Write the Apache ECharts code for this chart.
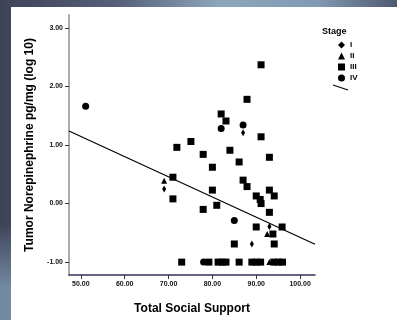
<!DOCTYPE html>
<html>
  <head>
    <meta charset="utf-8" />
    <title></title>
    <style type="text/css">
      html,
      body {
        margin: 0;
        width: 397px;
        height: 320px;
        overflow: hidden;
      }
      body {
        background: linear-gradient(to bottom, rgba(0, 0, 0, 0) 70%, rgba(120, 145, 170, 0.9) 90%),
          linear-gradient(to right, #3e4358 0%, #56607a 30%, #8da6bd 55%, #8199b2 80%, #4f5a72 100%);
      }
      #panel {
        position: absolute;
        left: 11px;
        top: 7px;
        right: 0;
        bottom: 0;
        background-color: #fff;
      }
      #main {
        position: absolute;
        left: 0;
        top: 0;
        width: 397px;
        height: 320px;
      }
    </style>
  </head>
  <body>
    <div id="panel"></div>
    <div id="main"></div>

    <script src="https://cdn.jsdelivr.net/npm/echarts@6/dist/echarts.min.js"></script>
    <script type="text/javascript">
      // 读图得到的数据 [Total Social Support, log10 NE]
      var stageI = [[69, 0.25], [87, 1.21], [93, -0.39], [89, -0.69]];
      var stageII = [[69, 0.39], [92.5, -0.52], [93, -1.0]];
      var stageIII = [
        [71, 0.45], [71, 0.08], [73, -1.0], [71.9, 0.96], [75.1, 1.06],
        [91.1, 2.37], [87.9, 1.78], [82, 1.53], [83.1, 1.41], [91.1, 1.14],
        [77.9, 0.84], [84, 0.91], [93, 0.79], [80, 0.62], [86.1, 0.71],
        [87, 0.4], [87.9, 0.29], [80, 0.23], [93, 0.23], [90, 0.13],
        [90.9, 0.07], [91.1, 0.0], [94.1, 0.13], [77.9, -0.1], [81, -0.03],
        [93, -0.15], [90, -0.4], [95.9, -0.4], [93.8, -0.52], [85, -0.69],
        [94.1, -0.69], [79.2, -1.0], [81.3, -1.0], [82.2, -1.0], [83.1, -1.0],
        [86.1, -1.0], [89, -1.0], [90, -1.0], [91, -1.0], [94, -1.0],
        [95, -1.0], [96, -1.0]
      ];
      var stageIV = [[51.1, 1.66], [82, 1.28], [87, 1.34], [85, -0.29], [78, -1.0]];

      // 拟合线 y = a + b * x
      var fitIntercept = 2.872;
      var fitSlope = -0.0345;

      var xTicks = [50, 60, 70, 80, 90, 100];
      var yTicks = [-1, 0, 1, 2, 3];
      var xRange = [47.3, 103.4];
      var yRange = [-1.22, 3.22];

      var fitLine = xRange.map(function (x) {
        return [x, fitIntercept + fitSlope * x];
      });

      var font = "Liberation Sans, Arial, sans-serif";
      var myChart = echarts.init(document.getElementById("main"));

      function scatter(name, data, symbol, size) {
        return {
          name: name,
          type: "scatter",
          data: data,
          symbol: symbol,
          symbolSize: size,
          itemStyle: { color: "#000", opacity: 1 },
          z: 3,
        };
      }

      var option = {
        backgroundColor: "transparent",
        animation: false,
        textStyle: { fontFamily: font },
        title: {
          text: "Stage",
          left: 317,
          top: 22,
          textStyle: { fontSize: 9, fontWeight: "bold", color: "#000", fontFamily: font },
        },
        legend: {
          orient: "vertical",
          left: 333,
          top: 36,
          itemWidth: 7,
          itemHeight: 7,
          itemGap: 3,
          textStyle: { fontSize: 8, fontWeight: "bold", color: "#000" },
          data: [
            { name: "I", icon: "diamond" },
            { name: "II", icon: "triangle" },
            { name: "III", icon: "rect" },
            { name: "IV", icon: "circle" },
          ],
        },
        // 图例里的拟合线符号
        graphic: [
          {
            type: "line",
            shape: { x1: 333, y1: 85, x2: 348, y2: 90 },
            style: { stroke: "#000", lineWidth: 1.3 },
          },
        ],
        grid: {
          left: 69,
          right: 82,
          top: 15,
          bottom: 41,
        },
        xAxis: {
          type: "value",
          min: xRange[0],
          max: xRange[1],
          name: "Total Social Support",
          nameLocation: "middle",
          nameGap: 28,
          nameTextStyle: { fontSize: 12, fontWeight: "bold", color: "#000" },
          splitLine: { show: false },
          axisLine: { onZero: false, lineStyle: { color: "#33335a", width: 1.5 } },
          axisTick: {
            customValues: xTicks,
            length: 4,
            lineStyle: { color: "#333" },
          },
          axisLabel: {
            customValues: xTicks,
            margin: 6,
            fontSize: 7,
            fontWeight: "bold",
            color: "#111",
            formatter: function (v) {
              return v.toFixed(2);
            },
          },
        },
        yAxis: {
          type: "value",
          min: yRange[0],
          max: yRange[1],
          name: "Tumor Norepinephrine pg/mg (log 10)",
          nameLocation: "middle",
          nameGap: 29,
          nameTextStyle: { fontSize: 12, fontWeight: "bold", color: "#000" },
          splitLine: { show: false },
          axisLine: { onZero: false, lineStyle: { color: "#aaa", width: 2 } },
          axisTick: {
            customValues: yTicks,
            length: 4,
            lineStyle: { color: "#333" },
          },
          axisLabel: {
            customValues: yTicks,
            margin: 6,
            fontSize: 7,
            fontWeight: "bold",
            color: "#111",
            formatter: function (v) {
              return v.toFixed(2);
            },
          },
        },
        series: [
          scatter("I", stageI, "diamond", [4, 7]),
          scatter("II", stageII, "triangle", 6),
          scatter("III", stageIII, "rect", 7),
          scatter("IV", stageIV, "circle", 7),
          {
            name: "Fit",
            type: "line",
            data: fitLine,
            symbol: "none",
            itemStyle: { color: "#000" },
            lineStyle: { color: "#000", width: 1.2 },
            z: 2,
          },
        ],
      };

      myChart.setOption(option);
    </script>
  </body>
</html>
